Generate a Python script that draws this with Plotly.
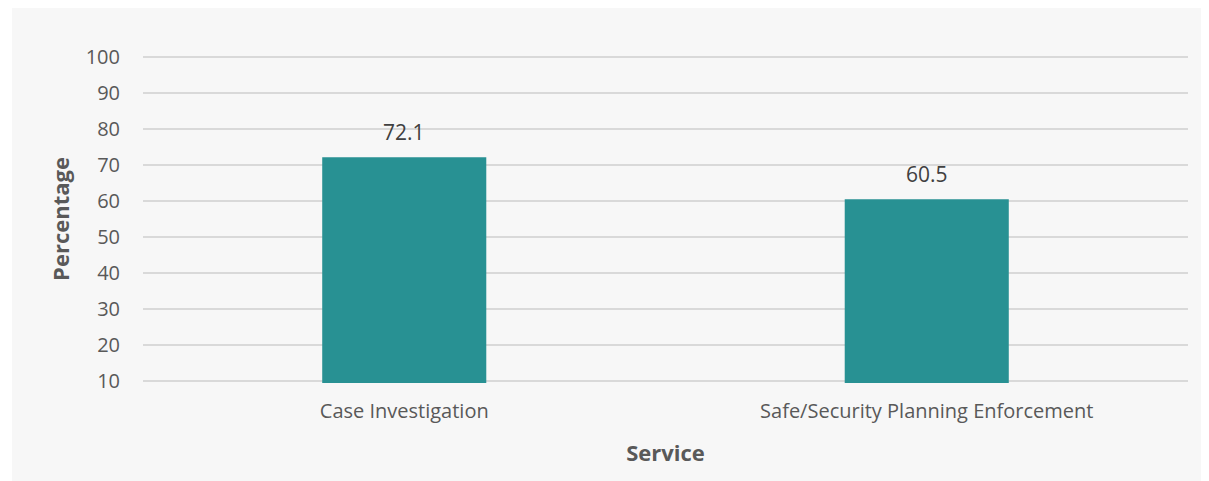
import plotly.graph_objects as go

services = ['Case Investigation', 'Safe/Security Planning Enforcement']
percentages = [72.1, 60.5]
y_ticks = [10, 20, 30, 40, 50, 60, 70, 80, 90, 100]

fig = go.Figure()
fig.add_trace(go.Bar(
    x=services, y=percentages,
    marker=dict(color='#289193', line=dict(width=0)),
    width=0.314,
))

# value labels above the bars
for s, p in zip(services, percentages):
    fig.add_annotation(x=s, y=p, text=f'{p}', showarrow=False,
                       yanchor='bottom', yshift=9,
                       font=dict(size=21, color='#404040'))

# light grey chart area
fig.add_shape(type='rect', xref='paper', yref='paper',
              x0=-0.1254, x1=1.05, y0=-0.4, y1=1.16,
              fillcolor='#f7f7f7', line=dict(width=0), layer='below')

fig.update_layout(
    width=1201, height=481,
    margin=dict(l=135, r=21, t=47, b=106),
    paper_bgcolor='white',
    plot_bgcolor='rgba(0,0,0,0)',
    font=dict(family='Open Sans, Lato, sans-serif', color='#595959'),
    showlegend=False,
)
fig.update_xaxes(
    title=dict(text='<b>Service</b>', font=dict(size=22, color='#595959'), standoff=22),
    tickfont=dict(size=20, color='#595959'),
    showgrid=False, showline=False, ticks='', ticklabelstandoff=14,
)
fig.update_yaxes(
    title=dict(text='<b>Percentage</b>', font=dict(size=22, color='#595959'), standoff=9),
    range=[9.5, 100.5], tickvals=y_ticks,
    tickfont=dict(size=20, color='#595959'),
    showgrid=True, gridcolor='#d9d9d9', gridwidth=1.5,
    zeroline=False, showline=False, ticks='', ticklabelstandoff=22,
)

fig.write_html('out.html')
